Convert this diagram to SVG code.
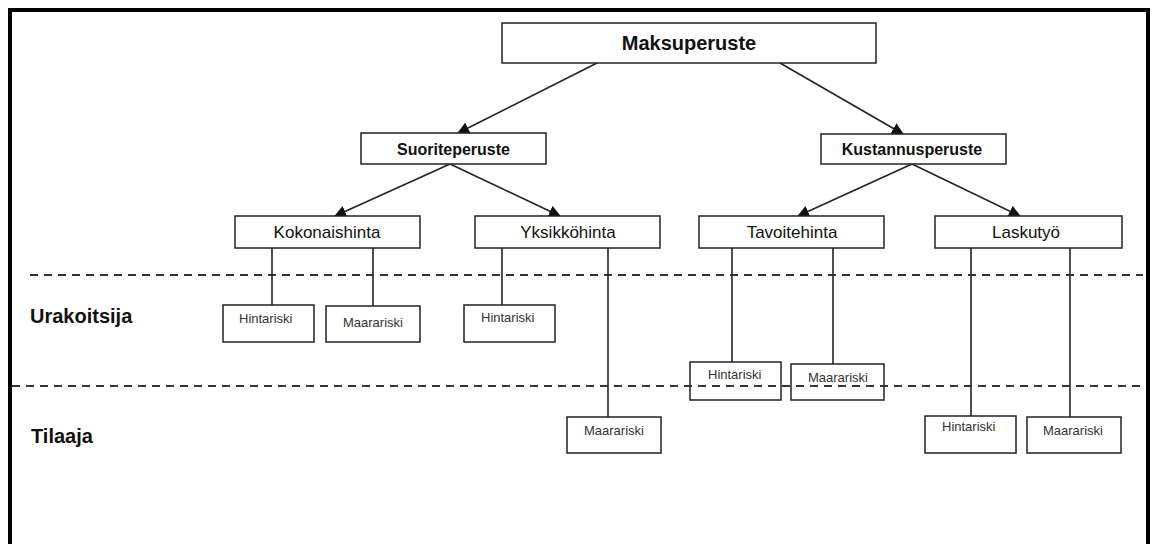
<svg xmlns="http://www.w3.org/2000/svg" width="1152" height="544" viewBox="0 0 1152 544">
<defs>
<marker id="arr" markerUnits="userSpaceOnUse" markerWidth="12" markerHeight="12" viewBox="0 0 12 12" refX="11" refY="6" orient="auto">
<path d="M0,0 L12,6 L0,12 Z" fill="#111"/>
</marker>
<style>
.box{fill:#fff;stroke:#222;stroke-width:1.5}
.sbox{fill:none;stroke:#222;stroke-width:1.5}
.edge{stroke:#222;stroke-width:1.6;fill:none}
.arrow{stroke:#222;stroke-width:1.6;fill:none;marker-end:url(#arr)}
.dash{stroke:#333;stroke-width:2;stroke-dasharray:8 6;fill:none}
.tb{font-family:"Liberation Sans",Arial,sans-serif;font-weight:bold;fill:#111;text-anchor:middle}
.tr{font-family:"Liberation Sans",Arial,sans-serif;fill:#111;text-anchor:middle;font-size:17px}
.ts{font-family:"Liberation Sans",Arial,sans-serif;fill:#333;font-size:13px}
.lane{font-family:"Liberation Sans",Arial,sans-serif;font-weight:bold;fill:#111;font-size:20px}
</style>
</defs>
<rect x="0" y="0" width="1152" height="544" fill="#fff"/>
<rect x="10" y="10" width="1138" height="560" fill="#fff" stroke="#000" stroke-width="4"/>

<g id="connectors">
<line class="arrow" x1="597" y1="63" x2="458" y2="133"/>
<line class="arrow" x1="780" y1="63" x2="903" y2="134"/>
<line class="arrow" x1="450" y1="164" x2="335" y2="216"/>
<line class="arrow" x1="450" y1="164" x2="560" y2="216"/>
<line class="arrow" x1="912" y1="164" x2="798" y2="216"/>
<line class="arrow" x1="912" y1="164" x2="1020" y2="216"/>
<line class="edge" x1="272" y1="248" x2="272" y2="305"/>
<line class="edge" x1="373" y1="248" x2="373" y2="306"/>
<line class="edge" x1="502" y1="248" x2="502" y2="305"/>
<line class="edge" x1="608" y1="248" x2="608" y2="417"/>
<line class="edge" x1="732" y1="248" x2="732" y2="362"/>
<line class="edge" x1="833" y1="248" x2="833" y2="364"/>
<line class="edge" x1="971" y1="248" x2="971" y2="416"/>
<line class="edge" x1="1070" y1="248" x2="1070" y2="417"/>
</g>

<g id="maksuperuste"><rect class="box" x="502" y="23" width="374" height="40"/><text class="tb" x="689" y="50" font-size="20">Maksuperuste</text></g>
<g id="suoriteperuste"><rect class="box" x="361" y="133" width="185" height="31"/><text class="tb" x="453.5" y="155" font-size="16">Suoriteperuste</text></g>
<g id="kustannusperuste"><rect class="box" x="821" y="134" width="185" height="30"/><text class="tb" x="912" y="155" font-size="16">Kustannusperuste</text></g>
<g id="kokonaishinta"><rect class="box" x="235" y="216" width="185" height="32"/><text class="tr" x="327" y="238">Kokonaishinta</text></g>
<g id="yksikkohinta"><rect class="box" x="475" y="216" width="185" height="32"/><text class="tr" x="568" y="238">Yksikköhinta</text></g>
<g id="tavoitehinta"><rect class="box" x="699" y="216" width="185" height="32"/><text class="tr" x="792" y="238">Tavoitehinta</text></g>
<g id="laskutyo"><rect class="box" x="935" y="216" width="187" height="32"/><text class="tr" x="1026" y="238">Laskutyö</text></g>

<g id="k-hintariski"><rect class="sbox" x="223" y="305" width="91" height="37"/><text class="ts" x="239" y="323" font-size="9.5">Hintariski</text></g>
<g id="k-maarariski"><rect class="sbox" x="326" y="306" width="94" height="36"/><text class="ts" x="343" y="327" font-size="9">Maarariski</text></g>
<g id="y-hintariski"><rect class="sbox" x="464" y="305" width="91" height="37"/><text class="ts" x="481" y="322">Hintariski</text></g>
<g id="y-maarariski"><rect class="sbox" x="567" y="417" width="94" height="36"/><text class="ts" x="584" y="435">Maarariski</text></g>
<g id="t-hintariski"><rect class="sbox" x="690" y="362" width="91" height="38"/><text class="ts" x="708" y="379">Hintariski</text></g>
<g id="t-maarariski"><rect class="sbox" x="791" y="364" width="93" height="36"/><text class="ts" x="808" y="382">Maarariski</text></g>
<g id="l-hintariski"><rect class="sbox" x="925" y="416" width="91" height="37"/><text class="ts" x="942" y="431">Hintariski</text></g>
<g id="l-maarariski"><rect class="sbox" x="1027" y="417" width="94" height="36"/><text class="ts" x="1043" y="435">Maarariski</text></g>

<g id="lanes">
<line class="dash" x1="30" y1="275" x2="1143" y2="275"/>
<line class="dash" x1="12" y1="386" x2="1143" y2="386"/>
<text class="lane" x="30" y="323">Urakoitsija</text>
<text class="lane" x="31" y="443">Tilaaja</text>
</g>
</svg>
